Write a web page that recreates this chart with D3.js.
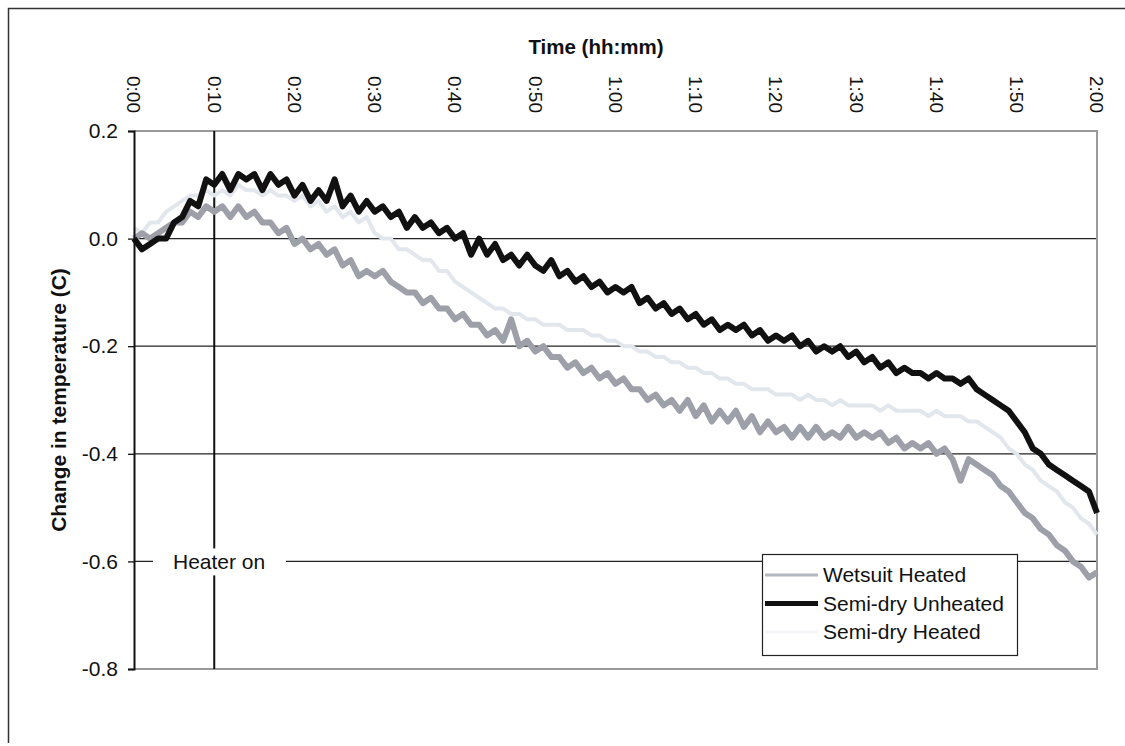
<!DOCTYPE html>
<html>
<head>
<meta charset="utf-8">
<script src="https://cdn.jsdelivr.net/npm/d3@7"></script>
<style>
  body { margin: 0; background: #fff; }
  text { font-family: Arial, "Liberation Sans", sans-serif; }
</style>
</head>
<body>
<div id="chart"></div>
<script>
// time in minutes, one sample per minute (0..120)
var minutes = d3.range(0, 121);
var timeTicks = [0, 10, 20, 30, 40, 50, 60, 70, 80, 90, 100, 110, 120];
var tempTicks = [0.2, 0.0, -0.2, -0.4, -0.6, -0.8];
var seriesNames = ['Wetsuit Heated', 'Semi-dry Unheated', 'Semi-dry Heated'];
var heaterOn = 10;

var wetsuitHeated = [
  0.00, 0.01, 0.00, 0.01, 0.02, 0.03, 0.03, 0.05, 0.04, 0.06,
  0.05, 0.06, 0.04, 0.06, 0.04, 0.05, 0.03, 0.03, 0.01, 0.02,
  -0.01, 0.00, -0.02, -0.01, -0.03, -0.02, -0.05, -0.04, -0.07, -0.06,
  -0.07, -0.06, -0.08, -0.09, -0.10, -0.10, -0.12, -0.11, -0.13, -0.13,
  -0.15, -0.14, -0.16, -0.16, -0.18, -0.17, -0.19, -0.15, -0.20, -0.19,
  -0.21, -0.20, -0.22, -0.22, -0.24, -0.23, -0.25, -0.24, -0.26, -0.25,
  -0.27, -0.26, -0.28, -0.28, -0.30, -0.29, -0.31, -0.30, -0.32, -0.30,
  -0.33, -0.31, -0.34, -0.32, -0.34, -0.32, -0.35, -0.33, -0.36, -0.34,
  -0.36, -0.35, -0.37, -0.35, -0.37, -0.35, -0.37, -0.36, -0.37, -0.35,
  -0.37, -0.36, -0.37, -0.36, -0.38, -0.37, -0.39, -0.38, -0.39, -0.38,
  -0.40, -0.39, -0.41, -0.45, -0.41, -0.42, -0.43, -0.44, -0.46, -0.47,
  -0.49, -0.51, -0.52, -0.54, -0.55, -0.57, -0.58, -0.60, -0.61, -0.63,
  -0.62
];

var semidryUnheated = [
  0.00, -0.02, -0.01, 0.00, 0.00, 0.03, 0.04, 0.07, 0.06, 0.11,
  0.10, 0.12, 0.09, 0.12, 0.11, 0.12, 0.09, 0.12, 0.10, 0.11,
  0.08, 0.10, 0.07, 0.09, 0.07, 0.11, 0.06, 0.08, 0.05, 0.07,
  0.05, 0.06, 0.04, 0.05, 0.02, 0.04, 0.02, 0.03, 0.01, 0.02,
  0.00, 0.01, -0.03, 0.00, -0.03, -0.01, -0.04, -0.03, -0.05, -0.03,
  -0.05, -0.06, -0.04, -0.07, -0.06, -0.08, -0.07, -0.09, -0.08, -0.10,
  -0.09, -0.10, -0.09, -0.12, -0.11, -0.13, -0.12, -0.14, -0.13, -0.15,
  -0.14, -0.16, -0.15, -0.17, -0.16, -0.17, -0.16, -0.18, -0.17, -0.19,
  -0.18, -0.19, -0.18, -0.20, -0.19, -0.21, -0.20, -0.21, -0.20, -0.22,
  -0.21, -0.23, -0.22, -0.24, -0.23, -0.25, -0.24, -0.25, -0.25, -0.26,
  -0.25, -0.26, -0.26, -0.27, -0.26, -0.28, -0.29, -0.30, -0.31, -0.32,
  -0.34, -0.36, -0.39, -0.40, -0.42, -0.43, -0.44, -0.45, -0.46, -0.47,
  -0.51
];

var semidryHeated = [
  0.02, 0.01, 0.03, 0.03, 0.05, 0.06, 0.07, 0.08, 0.08, 0.09,
  0.08, 0.09, 0.08, 0.10, 0.09, 0.09, 0.08, 0.09, 0.08, 0.08,
  0.07, 0.08, 0.06, 0.07, 0.05, 0.06, 0.04, 0.05, 0.03, 0.04,
  0.01, 0.00, 0.00, -0.02, -0.02, -0.03, -0.04, -0.04, -0.06, -0.06,
  -0.08, -0.09, -0.10, -0.11, -0.12, -0.13, -0.13, -0.14, -0.14, -0.15,
  -0.15, -0.16, -0.16, -0.16, -0.17, -0.17, -0.17, -0.18, -0.18, -0.19,
  -0.19, -0.20, -0.20, -0.21, -0.21, -0.22, -0.22, -0.23, -0.23, -0.24,
  -0.24, -0.25, -0.25, -0.26, -0.26, -0.27, -0.27, -0.28, -0.28, -0.28,
  -0.29, -0.29, -0.29, -0.30, -0.29, -0.30, -0.30, -0.31, -0.30, -0.31,
  -0.31, -0.31, -0.31, -0.32, -0.31, -0.32, -0.32, -0.32, -0.32, -0.33,
  -0.32, -0.33, -0.33, -0.33, -0.34, -0.34, -0.35, -0.36, -0.37, -0.39,
  -0.40, -0.42, -0.43, -0.45, -0.46, -0.47, -0.49, -0.50, -0.52, -0.53,
  -0.55
];

var width = 1125, height = 746;
var margin = {top: 131, right: 28, bottom: 77, left: 134};

var svg = d3.select('#chart')
    .append('svg')
    .attr('width', width)
    .attr('height', height);

// outer frame (only top and left edges show in the scan)
svg.append('path')
    .attr('d', 'M8.5,743V8.5H1125')
    .attr('fill', 'none')
    .attr('stroke', '#333')
    .attr('stroke-width', 1.5);

var x = d3.scaleLinear()
    .domain([0, 120])
    .range([margin.left, width - margin.right]);

var y = d3.scaleLinear()
    .domain([-0.8, 0.2])
    .range([height - margin.bottom, margin.top]);

// gridlines
svg.append('g')
    .selectAll('line')
    .data([0.0, -0.2, -0.4, -0.6])
    .enter()
    .append('line')
    .attr('x1', x(0)).attr('x2', x(120))
    .attr('y1', function (d) { return y(d); })
    .attr('y2', function (d) { return y(d); })
    .attr('stroke', '#222')
    .attr('stroke-width', 1.3);

// plot area border (top, right, bottom) in grey
svg.append('path')
    .attr('d', 'M' + x(0) + ',' + y(0.2) + 'H' + x(120) + 'V' + y(-0.8) + 'H' + x(0))
    .attr('fill', 'none')
    .attr('stroke', '#9a9a9a')
    .attr('stroke-width', 2);

// heater on marker
svg.append('line')
    .attr('x1', x(heaterOn)).attr('x2', x(heaterOn))
    .attr('y1', y(0.2)).attr('y2', y(-0.8))
    .attr('stroke', '#111')
    .attr('stroke-width', 2);

// series
var line = d3.line()
    .x(function (d, i) { return x(minutes[i]); })
    .y(function (d) { return y(d); });

svg.append('path')
    .datum(semidryHeated)
    .attr('d', line)
    .attr('fill', 'none')
    .attr('stroke', '#e2e6ed')
    .attr('stroke-width', 4)
    .attr('stroke-linejoin', 'round');

svg.append('path')
    .datum(wetsuitHeated)
    .attr('d', line)
    .attr('fill', 'none')
    .attr('stroke', '#9da0a8')
    .attr('stroke-width', 6)
    .attr('stroke-linejoin', 'round');

svg.append('path')
    .datum(semidryUnheated)
    .attr('d', line)
    .attr('fill', 'none')
    .attr('stroke', '#111')
    .attr('stroke-width', 6)
    .attr('stroke-linejoin', 'round');

// heater label with white box
svg.append('rect')
    .attr('x', 153).attr('y', y(-0.6) - 13)
    .attr('width', 133).attr('height', 27)
    .attr('fill', '#fff');

svg.append('text')
    .attr('x', 173).attr('y', y(-0.6))
    .attr('dy', '0.35em')
    .attr('font-size', 21)
    .attr('fill', '#111')
    .text('Heater on');

// y axis
var yAxis = d3.axisLeft(y)
    .tickValues(tempTicks)
    .tickSize(6)
    .tickPadding(10);

var gy = svg.append('g')
    .attr('transform', 'translate(' + x(0) + ',0)')
    .call(yAxis);
gy.select('.domain').attr('stroke', '#111').attr('stroke-width', 2);
gy.selectAll('.tick line').attr('stroke', '#111').attr('stroke-width', 1.3);
gy.selectAll('.tick text')
    .attr('font-size', 21)
    .attr('font-family', 'Arial, "Liberation Sans", sans-serif')
    .attr('fill', '#111')
    .text(function (d) { return d.toFixed(1); });

// x axis on top, labels rotated
var fmtTime = function (m) {
    return Math.floor(m / 60) + ':' + d3.format('02d')(m % 60);
};

svg.append('g')
    .selectAll('text')
    .data(timeTicks)
    .enter()
    .append('text')
    .attr('transform', function (d) { return 'translate(' + x(d) + ',76) rotate(90)'; })
    .attr('dy', '0.35em')
    .attr('font-size', 19)
    .attr('fill', '#111')
    .text(fmtTime);

// axis titles
svg.append('text')
    .attr('x', 596).attr('y', 47)
    .attr('dy', '0.35em')
    .attr('text-anchor', 'middle')
    .attr('font-size', 20.5)
    .attr('font-weight', 'bold')
    .attr('fill', '#111')
    .text('Time (hh:mm)');

svg.append('text')
    .attr('transform', 'translate(59,400) rotate(-90)')
    .attr('dy', '0.35em')
    .attr('text-anchor', 'middle')
    .attr('font-size', 21)
    .attr('font-weight', 'bold')
    .attr('fill', '#111')
    .text('Change in temperature (C)');

// legend
var legend = svg.append('g');

legend.append('rect')
    .attr('x', 762.5).attr('y', 554.5)
    .attr('width', 255).attr('height', 101)
    .attr('fill', '#fff')
    .attr('stroke', '#222')
    .attr('stroke-width', 1.2);

var legendColors = ['#b4b8c0', '#111', '#f4f5f8'];
var legendWidths = [3, 5, 3];

var items = legend.selectAll('g.item')
    .data(seriesNames)
    .enter()
    .append('g')
    .attr('class', 'item')
    .attr('transform', function (d, i) { return 'translate(765,' + (575 + i * 28.5) + ')'; });

items.append('line')
    .attr('x1', 0).attr('x2', 53)
    .attr('stroke', function (d, i) { return legendColors[i]; })
    .attr('stroke-width', function (d, i) { return legendWidths[i]; });

items.append('text')
    .attr('x', 58)
    .attr('dy', '0.35em')
    .attr('font-size', 21)
    .attr('fill', '#111')
    .text(function (d) { return d; });
</script>
</body>
</html>
